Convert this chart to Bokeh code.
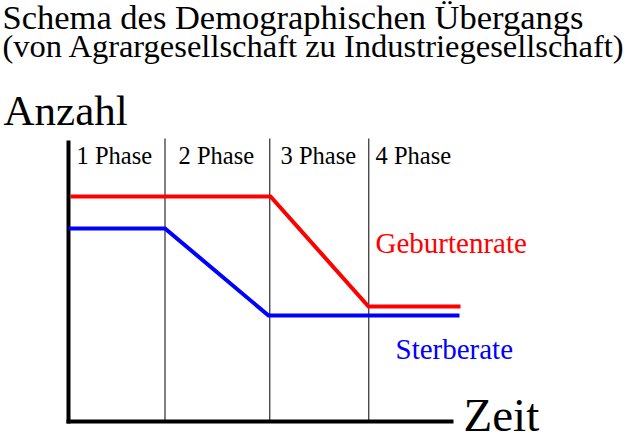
from bokeh.plotting import figure
from bokeh.models import Range1d, Label, ColumnDataSource
from bokeh.core.properties import value
from bokeh.embed import file_html
from bokeh.resources import INLINE

# ---- data (schematic, arbitrary units) ----
title_lines = ["Schema des Demographischen Übergangs",
               "(von Agrargesellschaft zu Industriegesellschaft)"]
phase_labels = ["1 Phase", "2 Phase", "3 Phase", "4 Phase"]
phase_label_x = [0.08, 1.10, 2.12, 3.07]
phase_bounds = [0.965, 2.013, 3.003]
zeit_geburten = [0.02, 2.02, 3.00, 3.92]
geburtenrate = [22.5, 22.5, 11.5, 11.5]
zeit_sterbe = [0.0, 0.965, 2.0, 3.91]
sterberate = [19.3, 19.3, 10.6, 10.6]
y_axis_top = 28.1
phase_line_top = 28.3
x_axis_end = 3.85

FONT = "Liberation Serif"

p = figure(width=624, height=432, output_backend="svg", toolbar_location=None,
           x_range=Range1d(-0.68, 5.56), y_range=Range1d(-1.1, 42.1),
           min_border=0, outline_line_color=None)
p.axis.visible = False
p.grid.visible = False
p.background_fill_color = "white"
p.border_fill_color = "white"

# phase separators
p.segment(x0=phase_bounds, y0=[0] * len(phase_bounds), x1=phase_bounds,
          y1=[phase_line_top] * len(phase_bounds), line_color="black", line_width=1)

# axes
p.line([0, 0], [-0.2, y_axis_top], line_color="black", line_width=4)
p.line([-0.02, x_axis_end], [0, 0], line_color="black", line_width=4)

# series
p.line(zeit_geburten, geburtenrate, line_color="#ff0000", line_width=4, line_join="miter")
p.line(zeit_sterbe, sterberate, line_color="#0000ff", line_width=4, line_join="miter")

# phase labels
src = ColumnDataSource(dict(x=phase_label_x, y=[26.64] * 4, t=phase_labels))
p.text(x="x", y="y", text="t", source=src, text_font=value(FONT),
       text_font_size="24.5px", text_color="black", text_baseline="alphabetic")

# series labels
p.text(x=[3.07], y=[17.87], text=["Geburtenrate"], text_font=value(FONT),
       text_font_size="29px", text_color="#ff0000", text_baseline="alphabetic")
p.text(x=[3.27], y=[7.27], text=["Sterberate"], text_font=value(FONT),
       text_font_size="29px", text_color="#0000ff", text_baseline="alphabetic")

# titles and axis names
p.add_layout(Label(x=-0.66, y=40.45, text=title_lines[0], text_font=FONT,
                   text_font_size="34.5px", text_color="black", text_baseline="alphabetic"))
p.add_layout(Label(x=-0.66, y=37.58, text=title_lines[1], text_font=FONT,
                   text_font_size="32.5px", text_color="black", text_baseline="alphabetic"))
p.add_layout(Label(x=-0.65, y=31.09, text="Anzahl", text_font=FONT,
                   text_font_size="43px", text_color="black", text_baseline="alphabetic"))
p.add_layout(Label(x=3.95, y=0.61, text="Zeit", text_font=FONT,
                   text_font_size="47px", text_color="black", text_baseline="alphabetic"))

open("out.html", "w").write(file_html(p, INLINE))
